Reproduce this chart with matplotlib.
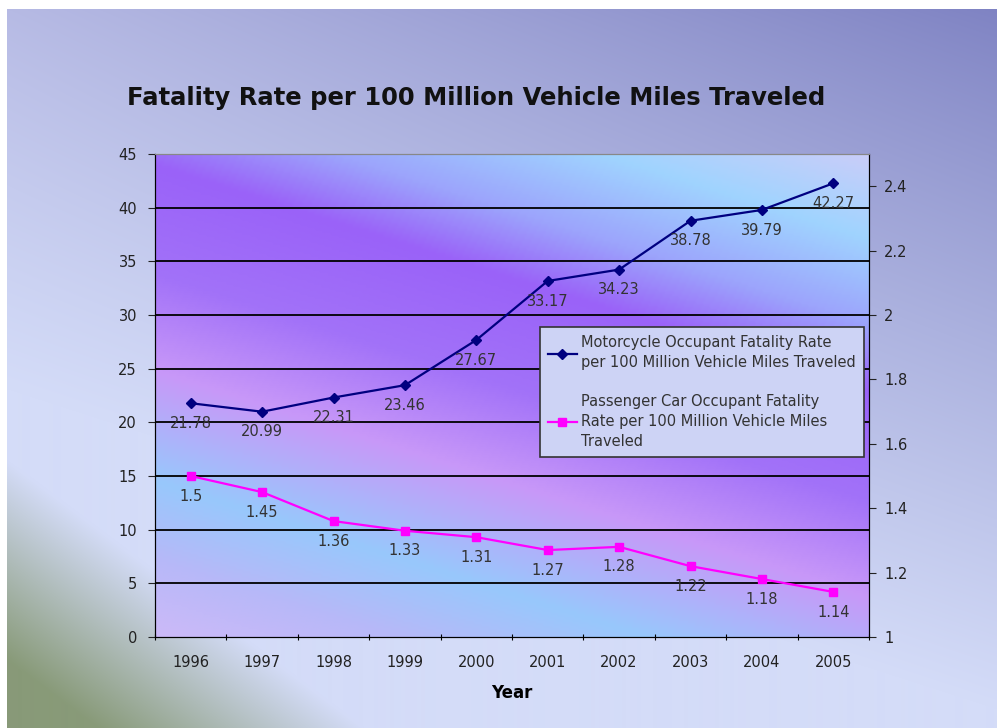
import numpy as np
import matplotlib
matplotlib.use("Agg")
import matplotlib.pyplot as plt
from matplotlib.colors import LinearSegmentedColormap, to_rgb
from matplotlib.ticker import FuncFormatter

plt.rcParams['font.family'] = ['DejaVu Sans']

years = ['1996', '1997', '1998', '1999', '2000', '2001', '2002', '2003', '2004', '2005']
moto = [21.78, 20.99, 22.31, 23.46, 27.67, 33.17, 34.23, 38.78, 39.79, 42.27]
car = [1.5, 1.45, 1.36, 1.33, 1.31, 1.27, 1.28, 1.22, 1.18, 1.14]
moto_name = 'Motorcycle Occupant Fatality Rate\nper 100 Million Vehicle Miles Traveled'
car_name = 'Passenger Car Occupant Fatality\nRate per 100 Million Vehicle Miles\nTraveled'

W, H = 997, 728
fig = plt.figure(figsize=(W / 100, H / 100), dpi=100)
fig.patch.set_facecolor('white')

# slide background
bx0, by0 = 7, 9
bw, bh = W - bx0, H - by0
yy, xx = np.mgrid[0:bh, 0:bw].astype(float)
xf = xx / bw
ty = np.clip(yy / (380 + 320 * xf), 0, 1) ** 0.9
tl, tr, bot = np.array(to_rgb('#b6bae4')), np.array(to_rgb('#7f83c3')), np.array(to_rgb('#d4dcf8'))
top = tl[None, None, :] * (1 - xf[..., None]) + tr[None, None, :] * xf[..., None]
img = top * (1 - ty[..., None]) + bot[None, None, :] * ty[..., None]
gy = yy + by0
g = np.clip((gy - 460 - 0.75 * xx) / 200, 0, 1)
green = np.array(to_rgb('#889a78'))
img = img * (1 - g[..., None]) + green[None, None, :] * g[..., None]
bgax = fig.add_axes([bx0 / W, 0, bw / W, bh / H])
bgax.imshow(img, aspect='auto', interpolation='bilinear')
bgax.axis('off')
bgax.set_zorder(-10)

# plot area gradient
pl, pr, pt, pb = 155, 869, 154, 637
pos = [pl / W, 1 - pb / H, (pr - pl) / W, (pb - pt) / H]
pax = fig.add_axes(pos)
py, px = np.mgrid[0:200, 0:300].astype(float)
s = py / 199 - 0.47 * px / 299
stops = [(-0.5, '#d0ccf8'), (-0.3, '#a0d4ff'), (-0.12, '#9ca4fc'), (0.02, '#9a62f8'),
         (0.25, '#a272f8'), (0.45, '#c898f8'), (0.68, '#98c8fc'), (0.85, '#b8b8f8'),
         (1.0, '#ccbaf8')]
cmap = LinearSegmentedColormap.from_list('pa', [((v + 0.5) / 1.5, c) for v, c in stops])
pax.imshow(cmap((s + 0.5) / 1.5), aspect='auto', interpolation='bilinear')
pax.axis('off')
pax.set_zorder(-5)

ax = fig.add_axes(pos)
ax.set_facecolor('none')
x = np.arange(len(years))
ax.plot(x, moto, color='#000080', lw=1.6, marker='D', ms=5, label=moto_name, zorder=4)
ax.set_xlim(-0.5, len(years) - 0.5)
ax.set_ylim(0, 45)
ax.set_yticks(range(0, 46, 5))
for v in range(5, 45, 5):
    ax.axhline(v, color='black', lw=1.3, zorder=1)
ax.set_xticks(np.arange(-0.5, len(years), 1))
ax.set_xticklabels([])
ax.set_xticks(x, minor=True)
ax.set_xticklabels(years, minor=True)
ax.tick_params(axis='x', which='minor', length=0, pad=13, labelsize=10.5, colors='#222222')
ax.tick_params(axis='x', which='major', length=5, direction='inout')
ax.tick_params(axis='y', length=5, direction='out', labelsize=10.5, colors='#222222', pad=8)
for sp in ['left', 'bottom', 'right']:
    ax.spines[sp].set_color('black')
ax.spines['top'].set_color('#888888')
ax.set_xlabel('Year', fontsize=12, fontweight='bold', labelpad=10)
for xi, v in zip(x, moto):
    ax.annotate(f'{v:.2f}', (xi, v), xytext=(0, -14.5), textcoords='offset points',
                ha='center', va='center', fontsize=10.5, color='#333333', zorder=5)

ax2 = ax.twinx()
ax2.plot(x, car, color='#ff00ff', lw=1.6, marker='s', ms=5.5, label=car_name, zorder=4)
ax2.set_ylim(1, 2.5)
ax2.set_yticks(np.arange(1, 2.41, 0.2))
ax2.yaxis.set_major_formatter(FuncFormatter(lambda v, p: f'{v:g}'))
ax2.tick_params(axis='y', length=5, direction='out', labelsize=10.5, colors='#222222', pad=6)
ax2.spines['right'].set_color('black')
ax2.spines['top'].set_color('#888888')
for xi, v in zip(x, car):
    ax2.annotate(f'{v:g}', (xi, v), xytext=(0, -14.5), textcoords='offset points',
                 ha='center', va='center', fontsize=10.5, color='#333333', zorder=5)

h1, l1 = ax.get_legend_handles_labels()
h2, l2 = ax2.get_legend_handles_labels()
leg = ax2.legend(h1 + h2, l1 + l2, loc='upper left', bbox_to_anchor=(0.539, 0.642),
                 borderaxespad=0, fontsize=10.5, frameon=True, fancybox=False,
                 handlelength=2.0, handletextpad=0.3, labelspacing=1.6, borderpad=0.55)
leg.get_frame().set_facecolor('#cdd3f5')
leg.get_frame().set_edgecolor('#333333')
leg.get_frame().set_linewidth(1.2)
leg.get_frame().set_alpha(1)
for t in leg.get_texts():
    t.set_color('#333333')
    t.set_linespacing(1.45)

fig.text(0.478, 0.866, 'Fatality Rate per 100 Million Vehicle Miles Traveled',
         ha='center', va='center', fontsize=17.5, fontweight='bold', color='#111111')

fig.savefig('out.png', dpi=100)
